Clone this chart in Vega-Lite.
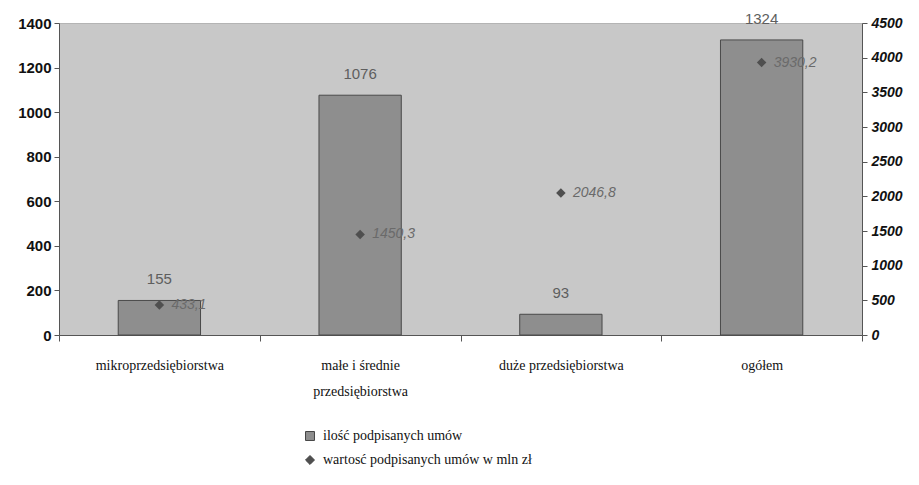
{
  "$schema": "https://vega.github.io/schema/vega-lite/v6.json",
  "width": 803,
  "height": 312,
  "autosize": "none",
  "padding": {"left": 59, "top": 23, "right": 57, "bottom": 150},
  "background": "white",
  "view": {"fill": "#c8c8c8", "stroke": "#b4b4b4"},
  "data": {
    "values": [
      {"kategoria": "mikroprzedsiębiorstwa", "ilosc": 155, "wartosc": 433.1, "wartosc_txt": "433,1"},
      {"kategoria": "małe i średnie przedsiębiorstwa", "ilosc": 1076, "wartosc": 1450.3, "wartosc_txt": "1450,3"},
      {"kategoria": "duże przedsiębiorstwa", "ilosc": 93, "wartosc": 2046.8, "wartosc_txt": "2046,8"},
      {"kategoria": "ogółem", "ilosc": 1324, "wartosc": 3930.2, "wartosc_txt": "3930,2"}
    ]
  },
  "config": {
    "legend": {
      "title": null,
      "orient": "none",
      "legendX": 244,
      "legendY": 406,
      "direction": "vertical",
      "labelFont": "Liberation Serif",
      "labelFontSize": 14,
      "labelColor": "#111111",
      "symbolSize": 80,
      "symbolStrokeColor": "#444444",
      "symbolStrokeWidth": 1,
      "rowPadding": 10,
      "labelOffset": 6,
      "labelLimit": 0
    }
  },
  "encoding": {
    "x": {
      "field": "kategoria",
      "type": "nominal",
      "sort": null,
      "scale": {"paddingInner": 0, "paddingOuter": 0},
      "axis": {
        "title": null,
        "orient": "bottom",
        "labelAngle": 0,
        "tickBand": "extent",
        "tickSize": 6,
        "tickColor": "#555555",
        "domainColor": "#555555",
        "labelFont": "Liberation Serif",
        "labelFontSize": 14,
        "labelColor": "#111111",
        "labelPadding": 17,
        "labelLimit": 0,
        "labelLineHeight": 26,
        "labelBaseline": "top",
        "labelExpr": "datum.value == 'małe i średnie przedsiębiorstwa' ? ['małe i średnie', 'przedsiębiorstwa'] : datum.label"
      }
    }
  },
  "layer": [
    {
      "encoding": {
        "y": {
          "field": "ilosc",
          "type": "quantitative",
          "scale": {"domain": [0, 1400]},
          "axis": {
            "title": null,
            "orient": "left",
            "values": [0, 200, 400, 600, 800, 1000, 1200, 1400],
            "format": "d",
            "grid": false,
            "labelOverlap": false,
            "tickSize": 5,
            "tickColor": "#555555",
            "domainColor": "#555555",
            "labelFont": "Liberation Sans",
            "labelFontWeight": "bold",
            "labelFontSize": 15,
            "labelColor": "#111111",
            "labelPadding": 3
          }
        }
      },
      "layer": [
        {
          "mark": {"type": "bar", "width": {"band": 0.41}, "stroke": "#4a4a4a", "strokeWidth": 1},
          "encoding": {
            "color": {
              "datum": "ilość podpisanych umów",
              "scale": {
                "domain": ["ilość podpisanych umów", "wartosć podpisanych umów w mln zł"],
                "range": ["#8e8e8e", "#4f4f4f"]
              },
              "legend": {"title": null}
            }
          }
        },
        {
          "mark": {"type": "text", "baseline": "bottom", "dy": -13, "font": "Liberation Sans", "fontSize": 15, "color": "#5e5e5e"},
          "encoding": {
            "text": {"field": "ilosc", "type": "quantitative", "format": "d"}
          }
        }
      ]
    },
    {
      "encoding": {
        "y": {
          "field": "wartosc",
          "type": "quantitative",
          "scale": {"domain": [0, 4500]},
          "axis": {
            "title": null,
            "orient": "right",
            "values": [0, 500, 1000, 1500, 2000, 2500, 3000, 3500, 4000, 4500],
            "format": "d",
            "grid": false,
            "labelOverlap": false,
            "tickSize": 5,
            "tickColor": "#555555",
            "domainColor": "#555555",
            "labelFont": "Liberation Sans",
            "labelFontWeight": "bold",
            "labelFontStyle": "italic",
            "labelFontSize": 14,
            "labelColor": "#111111",
            "labelPadding": 4
          }
        }
      },
      "layer": [
        {
          "mark": {"type": "point", "filled": true, "size": 90, "opacity": 1},
          "encoding": {
            "color": {"datum": "wartosć podpisanych umów w mln zł", "legend": {"title": null}},
            "shape": {
              "datum": "wartosć podpisanych umów w mln zł",
              "scale": {
                "domain": ["ilość podpisanych umów", "wartosć podpisanych umów w mln zł"],
                "range": ["square", "diamond"]
              },
              "legend": {"title": null}
            }
          }
        },
        {
          "mark": {"type": "text", "align": "left", "baseline": "middle", "dx": 12, "font": "Liberation Sans", "fontSize": 14, "fontStyle": "italic", "color": "#6a6a6a"},
          "encoding": {
            "text": {"field": "wartosc_txt", "type": "nominal"}
          }
        }
      ]
    }
  ],
  "resolve": {"scale": {"y": "independent"}}
}
